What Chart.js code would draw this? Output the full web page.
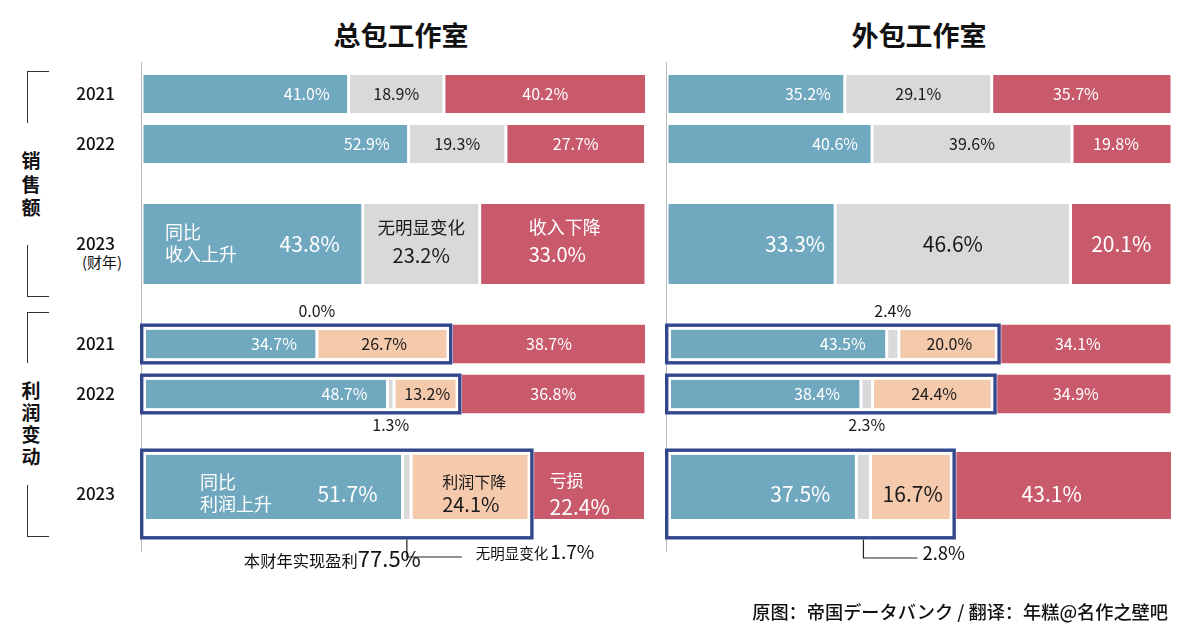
<!DOCTYPE html>
<html lang="zh-CN">
<head>
<meta charset="UTF-8">
<title>总包工作室 / 外包工作室</title>
<script src="https://cdn.jsdelivr.net/npm/chart.js"></script>
<style>
  body { margin: 0; background: #fff; font-family: "Noto Sans CJK SC", "Noto Sans", sans-serif; }
  #page { position: relative; width: 1192px; height: 638px; overflow: hidden; }
  .panel { position: absolute; top: 0; height: 638px; }
  .title { position: absolute; top: 15px; font-size: 27px; font-weight: bold; color: #111; transform: translateX(-50%); white-space: nowrap; }
  /* Klammern links */
  .brk { position: absolute; left: 27px; width: 21px; border-left: 1.5px solid #333; }
  .brk.top { border-top: 1.5px solid #333; }
  .brk.bot { border-bottom: 1.5px solid #333; }
  .side { position: absolute; left: 12px; width: 38px; text-align: center; font-size: 19px; font-weight: bold; color: #111; }
  .fy { position: absolute; left: 82px; top: 251px; font-size: 15px; line-height: 22px; color: #111; }
  .foot { position: absolute; right: 24px; top: 598px; font-size: 18.2px; font-weight: 500; color: #111; white-space: nowrap; }
</style>
</head>
<body>
<div id="page">
  <div class="title" style="left:401px">总包工作室</div>
  <div class="title" style="left:919px">外包工作室</div>

  <div class="brk top" style="top:71px;height:51px"></div>
  <div class="side" style="top:148px;line-height:23.5px">销<br>售<br>额</div>
  <div class="brk bot" style="top:245px;height:51px"></div>

  <div class="brk top" style="top:312px;height:50px"></div>
  <div class="side" style="top:379px;line-height:22px">利<br>润<br>变<br>动</div>
  <div class="brk bot" style="top:485px;height:51px"></div>

  <div class="fy">(财年)</div>

  <div class="panel" style="left:0;width:660px"><canvas id="mainChart"></canvas></div>
  <div class="panel" style="left:660px;width:532px"><canvas id="subChart"></canvas></div>

  <div class="foot">原图：帝国データバンク / 翻译：年糕@名作之壁吧</div>
</div>

<script>
// --- Daten ---
// Zeilen (leere Einträge = Abstand zwischen den Gruppen)
const slotLabels = ['2021', '2022', '', '2023', '', '2021', '2022', '', '2023'];
const salesSlots = [0, 1, 3];
const profitSlots = [5, 6, 8];

// 总包工作室: 2021, 2022, 2023
const salesUpMain = [41.0, 52.9, 43.8];
const salesFlatMain = [18.9, 19.3, 23.2];
const salesDownMain = [40.2, 27.7, 33.0];
const profitUpMain = [34.7, 48.7, 51.7];
const profitFlatMain = [0.0, 1.3, 1.7];
const profitDownMain = [26.7, 13.2, 24.1];
const profitLossMain = [38.7, 36.8, 22.4];

// 外包工作室: 2021, 2022, 2023
const salesUpSub = [35.2, 40.6, 33.3];
const salesFlatSub = [29.1, 39.6, 46.6];
const salesDownSub = [35.7, 19.8, 20.1];
const profitUpSub = [43.5, 38.4, 37.5];
const profitFlatSub = [2.4, 2.3, 2.8];
const profitDownSub = [20.0, 24.4, 16.7];
const profitLossSub = [34.1, 34.9, 43.1];

const FONT = '"Noto Sans CJK SC", "Noto Sans", sans-serif';
const BLUE = '#6fa8bf';
const GREY = '#d9d9d9';
const RED = '#c95a6c';
const PEACH = '#f5c9ab';
const NAVY = '#33478d';
const INK = '#1a1a1a';

function font(size, weight) {
  return (weight || 'normal') + ' ' + size + 'px ' + FONT;
}
function pct(v) {
  return v.toFixed(1) + '%';
}

// Werte auf die Zeilen verteilen
function place(values, slots) {
  const out = slotLabels.map(() => null);
  slots.forEach((s, k) => { out[s] = values[k]; });
  return out;
}
// dünne Zeilen = 2021/2022, dicke Zeile = 2023
function thin(values, slots, color, size, texts, extra) {
  return Object.assign({
    data: place(values.slice(0, 2), slots.slice(0, 2)),
    backgroundColor: color, barThickness: size, texts: texts
  }, extra);
}
function thick(values, slots, color, size, texts, extra) {
  return Object.assign({
    data: place(values.slice(2), slots.slice(2)),
    backgroundColor: color, barThickness: size, texts: texts
  }, extra);
}

// Hinweis unter 2023 (links): Summe der Gewinn-Firmen + "无明显变化"
function noteMain(ctx, bar, v) {
  const gx = (bar.base + bar.x) / 2;
  const bottom = bar.y + bar.height / 2 + 6;
  ctx.strokeStyle = '#222';
  ctx.lineWidth = 1.2;
  ctx.beginPath();
  ctx.moveTo(gx, bottom);
  ctx.lineTo(gx, bar.y + 63);
  ctx.lineTo(gx + 55, bar.y + 63);
  ctx.stroke();

  const total = profitUpMain[2] + profitFlatMain[2] + profitDownMain[2];
  ctx.fillStyle = '#111';
  ctx.textBaseline = 'alphabetic';
  ctx.textAlign = 'right';
  ctx.font = font(22);
  const big = pct(total);
  ctx.fillText(big, gx + 14, bar.y + 73);
  const w = ctx.measureText(big).width;
  ctx.font = font(16.3);
  ctx.fillText('本财年实现盈利', gx + 14 - w, bar.y + 73);

  ctx.textAlign = 'left';
  ctx.font = font(14.5);
  ctx.fillText('无明显变化', gx + 69, bar.y + 65);
  const w2 = ctx.measureText('无明显变化').width;
  ctx.font = font(19);
  ctx.fillText(pct(v), gx + 71 + w2, bar.y + 65);
}

function noteSub(ctx, bar, v) {
  const gx = (bar.base + bar.x) / 2;
  const bottom = bar.y + bar.height / 2 + 6;
  ctx.strokeStyle = '#222';
  ctx.lineWidth = 1.2;
  ctx.beginPath();
  ctx.moveTo(gx, bottom);
  ctx.lineTo(gx, bar.y + 64);
  ctx.lineTo(gx + 54, bar.y + 64);
  ctx.stroke();
  ctx.fillStyle = '#111';
  ctx.textBaseline = 'alphabetic';
  ctx.textAlign = 'left';
  ctx.font = font(18.5);
  ctx.fillText(pct(v), gx + 59, bar.y + 66);
}

// Achsenlinie, Rahmen um die Gewinn-Anteile, Beschriftungen
const decor = {
  id: 'decor',
  beforeDatasetsDraw(chart) {
    const { ctx, chartArea } = chart;
    ctx.save();
    ctx.strokeStyle = '#b8b8b8';
    ctx.lineWidth = 1;
    ctx.beginPath();
    ctx.moveTo(chartArea.left - 0.5, chartArea.top - 7);
    ctx.lineTo(chartArea.left - 0.5, chartArea.bottom + 33);
    ctx.stroke();
    ctx.restore();
  },
  afterDatasetsDraw(chart) {
    const ctx = chart.ctx;
    const x0 = chart.scales.x.getPixelForValue(0);
    ctx.save();

    chart.data.datasets.forEach((ds, di) => {
      if (!ds.frame) return;
      chart.getDatasetMeta(di).data.forEach((bar, i) => {
        if (ds.data[i] == null) return;
        const l = x0 - 2, r = bar.x + 1;
        const t = bar.y - bar.height / 2 - 6, b = bar.y + bar.height / 2 + 6;
        ctx.lineWidth = 3;
        ctx.strokeStyle = '#fff';
        ctx.strokeRect(l + 4.5, t + 4.5, r - l - 9, b - t - 9);
        ctx.lineWidth = 3.4;
        ctx.strokeStyle = NAVY;
        ctx.strokeRect(l + 1.7, t + 1.7, r - l - 3.4, b - t - 3.4);
      });
    });

    chart.data.datasets.forEach((ds, di) => {
      chart.getDatasetMeta(di).data.forEach((bar, i) => {
        const v = ds.data[i];
        if (v == null) return;
        (ds.texts || []).forEach(tx => {
          if (tx.only != null && tx.only !== i) return;
          if (tx.draw) { tx.draw(ctx, bar, v); return; }
          let x, align;
          if (tx.at === 'start') { x = bar.base; align = 'left'; }
          else if (tx.at === 'end') { x = bar.x; align = 'right'; }
          else { x = (bar.base + bar.x) / 2; align = 'center'; }
          ctx.font = font(tx.size || 16, tx.weight);
          ctx.fillStyle = tx.color || '#fff';
          ctx.textAlign = align;
          ctx.textBaseline = 'middle';
          ctx.fillText(tx.t == null ? pct(v) : tx.t, x + (tx.dx || 0), bar.y + (tx.dy || 0));
        });
      });
    });
    ctx.restore();
  }
};

const mainSets = [
  thin(salesUpMain, salesSlots, BLUE, 38, [{ at: 'end', dx: -19 }]),
  thick(salesUpMain, salesSlots, BLUE, 80, [
    { t: '同比', at: 'start', dx: 23, dy: -12, size: 18 },
    { t: '收入上升', at: 'start', dx: 23, dy: 10, size: 18 },
    { at: 'end', dx: -23, size: 21 }]),
  thin(salesFlatMain, salesSlots, GREY, 38, [{ at: 'center', color: INK }]),
  thick(salesFlatMain, salesSlots, GREY, 80, [
    { t: '无明显变化', at: 'center', dy: -17, size: 17.5, color: INK },
    { at: 'center', dy: 11, size: 20, color: INK }]),
  thin(salesDownMain, salesSlots, RED, 38, [{ at: 'center' }]),
  thick(salesDownMain, salesSlots, RED, 80, [
    { t: '收入下降', at: 'start', dx: 49, dy: -17, size: 18 },
    { at: 'start', dx: 49, dy: 10, size: 20 }]),

  thin(profitUpMain, profitSlots, BLUE, 29, [{ at: 'end', dx: -20 }]),
  thick(profitUpMain, profitSlots, BLUE, 79, [
    { t: '同比', at: 'start', dx: 58, dy: -12, size: 18 },
    { t: '利润上升', at: 'start', dx: 58, dy: 10, size: 18 },
    { at: 'end', dx: -25, size: 21 }]),
  thin(profitFlatMain, profitSlots, GREY, 29, [
    { at: 'center', dy: -33, color: INK, only: 5 },
    { at: 'center', dy: 31, color: INK, only: 6 }]),
  thick(profitFlatMain, profitSlots, GREY, 79, [{ draw: noteMain }]),
  thin(profitDownMain, profitSlots, PEACH, 29, [{ at: 'center', color: INK }], { frame: true }),
  thick(profitDownMain, profitSlots, PEACH, 79, [
    { t: '利润下降', at: 'start', dx: 31, dy: -12, size: 16, color: INK },
    { at: 'start', dx: 31, dy: 10, size: 20, color: INK }], { frame: true }),
  thin(profitLossMain, profitSlots, RED, 39, [{ at: 'center' }]),
  thick(profitLossMain, profitSlots, RED, 84, [
    { t: '亏损', at: 'start', dx: 17, dy: -13, size: 17 },
    { at: 'start', dx: 17, dy: 13, size: 21 }])
];

const subSets = [
  thin(salesUpSub, salesSlots, BLUE, 38, [{ at: 'end', dx: -14 }]),
  thick(salesUpSub, salesSlots, BLUE, 80, [{ at: 'end', dx: -10, size: 21 }]),
  thin(salesFlatSub, salesSlots, GREY, 38, [{ at: 'center', color: INK }]),
  thick(salesFlatSub, salesSlots, GREY, 80, [{ at: 'center', size: 21, color: INK }]),
  thin(salesDownSub, salesSlots, RED, 38, [{ at: 'center', dx: -6 }]),
  thick(salesDownSub, salesSlots, RED, 80, [{ at: 'center', size: 21 }]),

  thin(profitUpSub, profitSlots, BLUE, 29, [{ at: 'end', dx: -21 }]),
  thick(profitUpSub, profitSlots, BLUE, 79, [{ at: 'end', dx: -26, size: 21 }]),
  thin(profitFlatSub, profitSlots, GREY, 29, [
    { at: 'center', dy: -33, color: INK, only: 5 },
    { at: 'center', dy: 31, color: INK, only: 6 }]),
  thick(profitFlatSub, profitSlots, GREY, 79, [{ draw: noteSub }]),
  thin(profitDownSub, profitSlots, PEACH, 29, [{ at: 'center', color: INK }], { frame: true }),
  thick(profitDownSub, profitSlots, PEACH, 79, [{ at: 'center', size: 21, color: INK }], { frame: true }),
  thin(profitLossSub, profitSlots, RED, 39, [{ at: 'center', dx: -8 }]),
  thick(profitLossSub, profitSlots, RED, 84, [{ at: 'center', dx: -12, size: 21 }])
];

function makeChart(id, datasets, withYears, pad) {
  const yScale = {
    stacked: true,
    display: withYears,
    grid: { display: false, drawTicks: false },
    border: { display: false },
    ticks: { autoSkip: false, padding: 27, color: '#111', font: { family: FONT, size: 17, weight: '500' } }
  };
  if (withYears) yScale.afterFit = s => { s.width = 142; };
  return new Chart(document.getElementById(id), {
    type: 'bar',
    data: { labels: slotLabels, datasets: datasets },
    options: {
      indexAxis: 'y',
      responsive: true,
      maintainAspectRatio: false,
      animation: false,
      layout: { padding: pad },
      elements: {
        bar: {
          borderColor: '#fff',
          borderWidth: { left: 1.5, right: 1.5, top: 0, bottom: 0 },
          borderSkipped: false,
          inflateAmount: 0
        }
      },
      scales: {
        x: { stacked: true, min: 0, max: 100, display: false },
        y: yScale
      },
      plugins: { legend: { display: false }, tooltip: { enabled: false } }
    },
    plugins: [decor]
  });
}

makeChart('mainChart', mainSets, true, { top: 69, bottom: 119, left: 0, right: 14 });
makeChart('subChart', subSets, false, { top: 69, bottom: 119, left: 7, right: 20 });
</script>
</body>
</html>
